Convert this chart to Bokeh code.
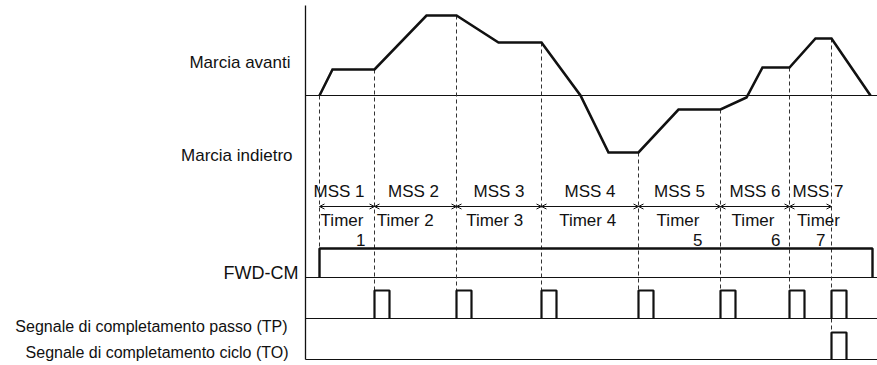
import numpy as np
from bokeh.plotting import figure
from bokeh.models import Range1d, Arrow, OpenHead, ColumnDataSource
from bokeh.core.properties import value
from bokeh.embed import file_html
from bokeh.resources import INLINE

# ---------------- data ----------------
step_labels = ["MSS 1", "MSS 2", "MSS 3", "MSS 4", "MSS 5", "MSS 6", "MSS 7"]
timer_line1 = ["Timer", "Timer  2", "Timer  3", "Timer  4", "Timer", "Timer", "Timer"]
timer_line2 = ["1", "", "", "", "5", "6", "7"]
# step boundaries (time units)
step_bounds = [0, 55, 137, 222, 319, 401, 470, 512]
# speed profile (time, speed)
profile_t = [0, 13, 55, 107, 137, 179, 222, 261, 289, 319, 359, 401, 427, 443, 470, 496, 512, 551]
profile_v = [0, 26, 26, 80, 80, 53, 53, 0, -57, -57, -14, -14, -2, 28, 28, 57, 57, 0]
fwd_cm_on = 0
fwd_cm_off = 553
tp_pulse_starts = [55, 137, 222, 319, 401, 470, 512]
to_pulse_starts = [512]
pulse_width = 15

row_labels = ["Marcia avanti", "Marcia indietro", "FWD-CM",
              "Segnale di completamento passo (TP)",
              "Segnale di completamento ciclo (TO)"]

# ---------------- layout constants ----------------
AXIS_T = -14
RIGHT_T = 558
TOP_V = 90
FWD_BASE, FWD_HIGH = -182, -153
TP_BASE, TP_HIGH = -223, -195
TO_BASE, TO_HIGH = -264, -237
MSS_Y, ARROW_Y, TIMER_Y1, TIMER_Y2 = -96, -111, -125, -144
MSS_DX = np.array([-8, -2, 0, 0, 0, 0, 7.5])
TIMER_DX = np.array([-5, -8, -2, 0, -1.5, -2, 8])
DIGIT_DX = np.array([18.5, 0, 0, 0, 23, 25.5, 15])
INK = "#111111"
FONT = value("Liberation Sans")

p = figure(width=877, height=365, output_backend="svg", toolbar_location=None,
           x_axis_type=None, y_axis_type=None,
           x_range=Range1d(-319, 558), y_range=Range1d(-270, 95),
           min_border=0, outline_line_color=None)
p.grid.visible = False
p.background_fill_color = "white"
p.border_fill_color = "white"

# axis & baselines
p.segment(x0=[AXIS_T], y0=[TOP_V], x1=[AXIS_T], y1=[TO_BASE], line_color=INK, line_width=1.3)
p.segment(x0=[AXIS_T] * 4, x1=[RIGHT_T + 5] * 4,
          y0=[0, FWD_BASE, TP_BASE, TO_BASE], y1=[0, FWD_BASE, TP_BASE, TO_BASE],
          line_color=INK, line_width=1.2)

# dashed step boundaries
b = np.array(step_bounds, dtype=float)
levels = np.interp(b, profile_t, profile_v)
ends = [FWD_HIGH] + [TP_HIGH] * (len(b) - 2) + [TO_HIGH]
p.segment(x0=b, y0=levels, x1=b, y1=ends, line_color="#333333", line_width=1,
          line_dash="4 3")

# speed profile
p.line(profile_t, profile_v, line_color=INK, line_width=2.6, line_join="miter")

# FWD-CM
p.line([fwd_cm_on, fwd_cm_on, fwd_cm_off, fwd_cm_off],
       [FWD_BASE, FWD_HIGH, FWD_HIGH, FWD_BASE], line_color=INK, line_width=2.4)

# TP / TO pulses
def pulses(starts, base, high):
    xs = [[s, s, s + pulse_width, s + pulse_width] for s in starts]
    ys = [[base, high, high, base] for _ in starts]
    return xs, ys

xs, ys = pulses(tp_pulse_starts, TP_BASE, TP_HIGH)
p.multi_line(xs, ys, line_color=INK, line_width=2.2)
xs, ys = pulses(to_pulse_starts, TO_BASE, TO_HIGH)
p.multi_line(xs, ys, line_color=INK, line_width=2.2)

# timer arrows
asrc = ColumnDataSource(dict(x0=b[:-1], x1=b[1:], y=[ARROW_Y] * (len(b) - 1)))
p.add_layout(Arrow(x_start="x0", x_end="x1", y_start="y", y_end="y", source=asrc,
                   line_color=INK, line_width=1,
                   start=OpenHead(size=5, line_color=INK, line_width=1),
                   end=OpenHead(size=5, line_color=INK, line_width=1)))

# labels
centers = (b[:-1] + b[1:]) / 2
p.text(x=centers + MSS_DX, y=[MSS_Y] * len(centers), text=step_labels, text_font=FONT,
       text_font_size="17px", text_align="center", text_baseline="middle", text_color=INK)
p.text(x=centers + TIMER_DX, y=[TIMER_Y1] * len(centers), text=timer_line1, text_font=FONT,
       text_font_size="17px", text_align="center", text_baseline="middle", text_color=INK)
p.text(x=centers + DIGIT_DX, y=[TIMER_Y2] * len(centers), text=timer_line2, text_font=FONT,
       text_font_size="17px", text_align="right", text_baseline="middle", text_color=INK)

p.text(x=[-29, -27], y=[33, -60], text=[row_labels[0], row_labels[1]],
       text_font=FONT, text_font_size="17px", text_align="right",
       text_baseline="middle", text_color=INK)
p.text(x=[-32, -31], y=[-231, -257], text=[row_labels[3], row_labels[4]],
       text_font=FONT, text_font_size="16px", text_align="right",
       text_baseline="middle", text_color=INK)
p.text(x=[-21], y=[-177], text=[row_labels[2]], text_font=FONT, text_font_size="18px",
       text_align="right", text_baseline="middle", text_color=INK)

open("out.html", "w").write(file_html(p, INLINE))
